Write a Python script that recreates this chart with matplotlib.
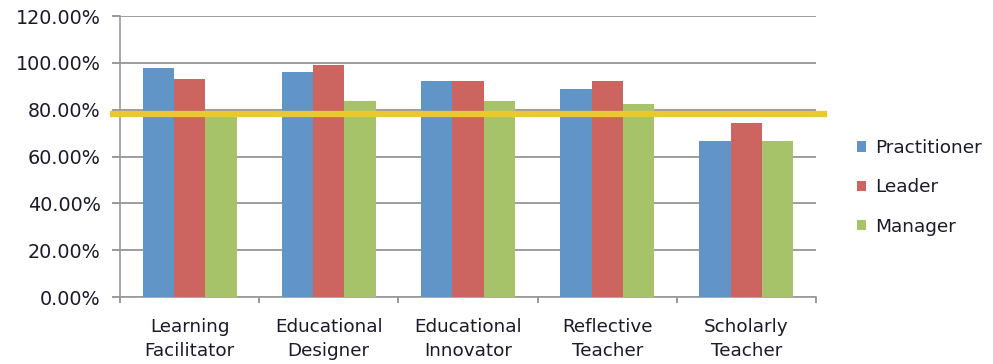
import matplotlib
matplotlib.use("Agg")
import matplotlib.pyplot as plt
import numpy as np
from matplotlib.ticker import FuncFormatter

categories = ["Learning\nFacilitator", "Educational\nDesigner", "Educational\nInnovator",
              "Reflective\nTeacher", "Scholarly\nTeacher"]
practitioner = [98.0, 96.2, 92.3, 88.8, 66.8]
leader = [92.9, 99.0, 92.3, 92.3, 74.2]
manager = [79.0, 83.8, 83.8, 82.4, 66.8]
threshold = 78.3
series_names = ["Practitioner", "Leader", "Manager"]
colors = ["#6195C8", "#CC6560", "#A6C36A"]

plt.rcParams['font.family'] = ['DejaVu Sans']
text_color = "#1a1a2a"

fig = plt.figure(figsize=(9.93, 3.64), dpi=100)
ax = fig.add_axes([0.1208, 0.184, 0.7010, 0.772])

x = np.arange(len(categories))
w = 0.225
for i, (vals, name, c) in enumerate(zip([practitioner, leader, manager], series_names, colors)):
    ax.bar(x + (i - 1) * w, vals, width=w, color=c, label=name, zorder=3)

ax.axhline(threshold, xmin=-0.01, xmax=1.012, color="#E9C832", lw=4.5, zorder=4, clip_on=False)

ax.set_xlim(-0.5, len(categories) - 0.5)
ax.set_ylim(0, 120)
ax.set_yticks(np.arange(0, 121, 20))
ax.yaxis.set_major_formatter(FuncFormatter(lambda v, p: f"{v:.2f}%"))
ax.set_xticks(x)
ax.set_xticklabels(categories, fontsize=13.2, linespacing=1.45, color=text_color)
ax.set_xticks(np.arange(-0.5, len(categories), 1), minor=True)
ax.tick_params(axis='x', which='major', length=0, pad=15)
ax.tick_params(axis='x', which='minor', length=4, color="#888888", width=1.2)
ax.tick_params(axis='y', length=6, color="#888888", width=1.2, labelsize=13.8,
               labelcolor=text_color, pad=8)

ax.grid(axis='y', color="#8c8c8c", lw=1.2, zorder=0)
for s in ['top', 'right']:
    ax.spines[s].set_visible(False)
for s in ['left', 'bottom']:
    ax.spines[s].set_color("#999999")
    ax.spines[s].set_linewidth(1.2)

leg = ax.legend(loc='center left', bbox_to_anchor=(1.059, 0.39), frameon=False,
                fontsize=13.3, handlelength=0.5, handleheight=0.5, handletextpad=0.45,
                labelspacing=1.15, borderaxespad=0, borderpad=0)
for t in leg.get_texts():
    t.set_color(text_color)

fig.savefig("out.png", dpi=100)
